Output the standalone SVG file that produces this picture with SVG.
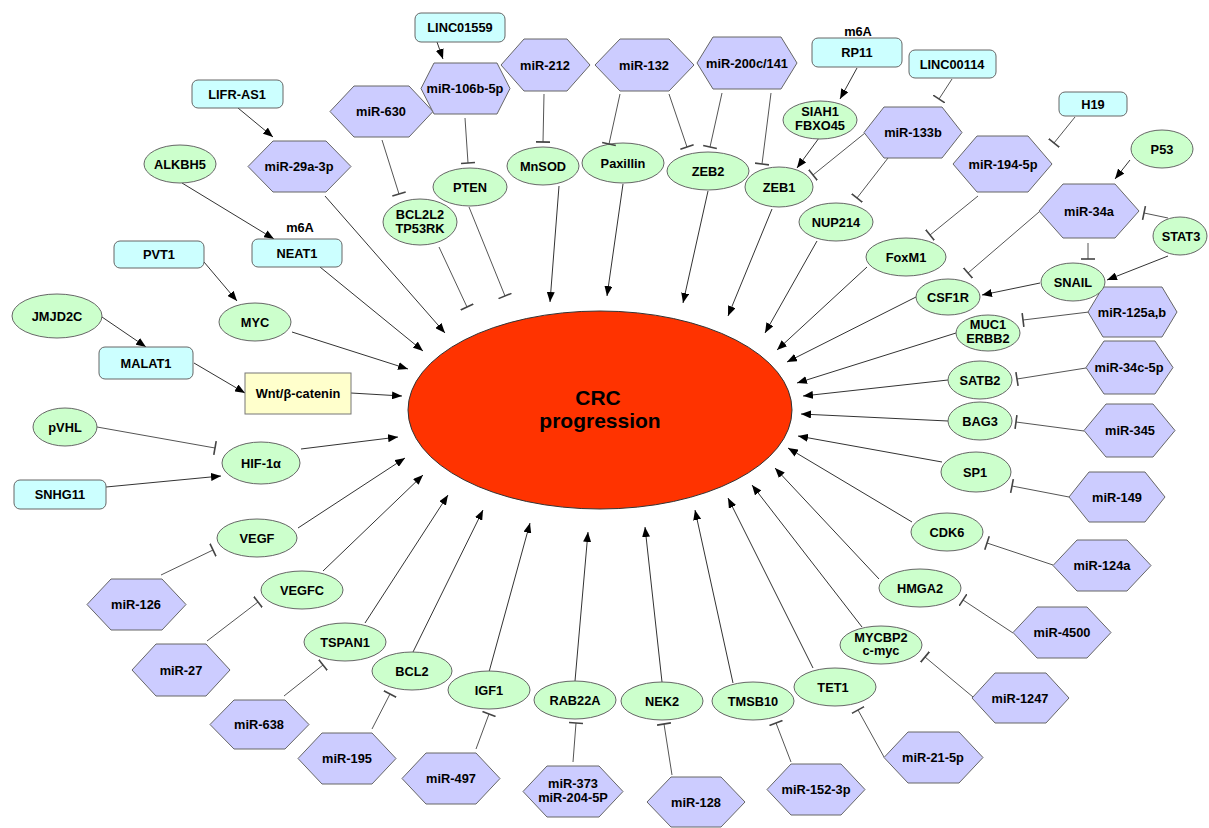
<svg xmlns="http://www.w3.org/2000/svg" width="1209" height="828" viewBox="0 0 1209 828">
<style>
text{font-family:"Liberation Sans",Arial,sans-serif;font-weight:bold;font-size:12.8px;text-anchor:middle;fill:#000}
.big{font-size:21px}
.hx{fill:#CCCCFF;stroke:#666;stroke-width:1}
.el{fill:#CCFFCC;stroke:#666;stroke-width:1}
.rr{fill:#CCFFFF;stroke:#666;stroke-width:1}
.wn{fill:#FFFFCC;stroke:#777;stroke-width:1}
.crc{fill:#FF3300;stroke:#333;stroke-width:1}
.a{fill:none;stroke:#333;stroke-width:1;marker-end:url(#arr)}
.i{fill:none;stroke:#555;stroke-width:1;marker-end:url(#tee)}
</style>
<defs>
<marker id="arr" markerWidth="10" markerHeight="8" refX="10" refY="4" orient="auto" markerUnits="userSpaceOnUse"><path d="M0,0 L10,4 L0,8 z" fill="#000"/></marker>
<marker id="tee" markerWidth="3" markerHeight="14" refX="1.5" refY="7" orient="auto" markerUnits="userSpaceOnUse"><line x1="1.5" y1="0" x2="1.5" y2="14" stroke="#444" stroke-width="1.6"/></marker>
</defs>
<rect width="1209" height="828" fill="#fff"/>

<g id="connectors">
<path class="a" d="M238,108 L273,137"/>
<path class="a" d="M182,183 L274,239"/>
<path class="a" d="M325,196 L445,333"/>
<path class="a" d="M320,267 L423,351"/>
<path class="a" d="M204,262 L237,301"/>
<path class="a" d="M292,332 L408,369"/>
<path class="a" d="M102,317 L146,347"/>
<path class="a" d="M194,363 L245,393"/>
<path class="a" d="M351,393 L402,396"/>
<path class="a" d="M106,487 L221,476"/>
<path class="a" d="M301,449 L398,437"/>
<path class="a" d="M298,528 L405,458"/>
<path class="a" d="M323,571 L423,475"/>
<path class="a" d="M365,623 L448,495"/>
<path class="a" d="M413,652 L483,510"/>
<path class="a" d="M489,672 L530,523"/>
<path class="a" d="M575,681 L588,532"/>
<path class="a" d="M662,682 L645,527"/>
<path class="a" d="M733,683 L695,510"/>
<path class="a" d="M813,668 L728,498"/>
<path class="a" d="M862,627 L752,485"/>
<path class="a" d="M879,579 L775,468"/>
<path class="a" d="M912,522 L788,448"/>
<path class="a" d="M942,462 L798,436"/>
<path class="a" d="M948,421 L801,414"/>
<path class="a" d="M948,380 L803,396"/>
<path class="a" d="M956,333 L797,383"/>
<path class="a" d="M916,297 L787,362"/>
<path class="a" d="M867,267 L777,350"/>
<path class="a" d="M817,241 L765,333"/>
<path class="a" d="M772,209 L728,316"/>
<path class="a" d="M708,191 L683,303"/>
<path class="a" d="M623,184 L607,296"/>
<path class="a" d="M559,186 L550,302"/>
<path class="a" d="M437,42 L443,59"/>
<path class="a" d="M857,68 L840,99"/>
<path class="a" d="M819,138 L797,168"/>
<path class="a" d="M1130,160 L1115,179"/>
<path class="a" d="M1168,256 L1107,280"/>
<path class="a" d="M1040,283 L982,295"/>

<path class="i" d="M97,427 L215,448"/>
<path class="i" d="M161,575 L213,550"/>
<path class="i" d="M207,641 L258,602"/>
<path class="i" d="M284,696 L323,665"/>
<path class="i" d="M372,729 L390,694"/>
<path class="i" d="M476,749 L489,714"/>
<path class="i" d="M573,762 L576,723"/>
<path class="i" d="M672,775 L664,724"/>
<path class="i" d="M791,762 L776,723"/>
<path class="i" d="M884,757 L858,710"/>
<path class="i" d="M973,697 L925,657"/>
<path class="i" d="M1013,633 L963,600"/>
<path class="i" d="M1053,565 L987,543"/>
<path class="i" d="M1069,497 L1012,486"/>
<path class="i" d="M1084,431 L1016,422"/>
<path class="i" d="M1086,368 L1017,379"/>
<path class="i" d="M1089,312 L1023,320"/>
<path class="i" d="M1039,212 L968,273"/>
<path class="i" d="M1088,243 L1088,259"/>
<path class="i" d="M1168,218 L1144,213"/>
<path class="i" d="M978,196 L930,235"/>
<path class="i" d="M1075,117 L1054,143"/>
<path class="i" d="M952,79 L939,99"/>
<path class="i" d="M888,158 L857,198"/>
<path class="i" d="M865,133 L813,175"/>
<path class="i" d="M771,93 L762,164"/>
<path class="i" d="M722,93 L710,147"/>
<path class="i" d="M669,94 L687,147"/>
<path class="i" d="M544,94 L543,142"/>
<path class="i" d="M465,118 L468,163"/>
<path class="i" d="M382,140 L399,194"/>
<path class="i" d="M469,207 L505,296"/>
<path class="i" d="M439,247 L467,307"/>
</g>

<g id="crc"><ellipse class="crc" cx="600" cy="410" rx="192" ry="99"/><text class="big" x="598" y="405">CRC</text><text class="big" x="600" y="428">progression</text></g>

<g id="wnt"><rect class="wn" x="245" y="373" width="106" height="41"/><text x="298" y="398">Wnt/β-catenin</text></g>

<g id="LINC01559"><rect class="rr" x="415" y="13" width="90" height="29" rx="6"/><text x="460" y="32">LINC01559</text></g>
<g id="LIFR-AS1"><rect class="rr" x="192" y="80" width="91" height="28" rx="6"/><text x="237" y="99">LIFR-AS1</text></g>
<g id="NEAT1"><text x="300" y="232">m6A</text><rect class="rr" x="252" y="239" width="90" height="28" rx="6"/><text x="297" y="258">NEAT1</text></g>
<g id="PVT1"><rect class="rr" x="114" y="241" width="90" height="27" rx="6"/><text x="159" y="259">PVT1</text></g>
<g id="MALAT1"><rect class="rr" x="99" y="347" width="94" height="32" rx="6"/><text x="146" y="368">MALAT1</text></g>
<g id="SNHG11"><rect class="rr" x="14" y="480" width="92" height="29" rx="6"/><text x="60" y="499">SNHG11</text></g>
<g id="RP11"><text x="858" y="36">m6A</text><rect class="rr" x="812" y="38" width="90" height="29" rx="6"/><text x="857" y="57">RP11</text></g>
<g id="LINC00114"><rect class="rr" x="909" y="50" width="87" height="28" rx="6"/><text x="952" y="69">LINC00114</text></g>
<g id="H19"><rect class="rr" x="1059" y="92" width="68" height="24" rx="6"/><text x="1093" y="109">H19</text></g>

<g id="miR-630"><polygon class="hx" points="330,111.5 354,86 409,86 433,111.5 409,137 354,137"/><text x="381" y="116">miR-630</text></g>
<g id="miR-29a-3p"><polygon class="hx" points="248,166.5 273,141 326,141 351,166.5 326,192 273,192"/><text x="299" y="171">miR-29a-3p</text></g>
<g id="miR-106b-5p"><polygon class="hx" points="421,88.5 434,63 497,63 510,88.5 497,114 434,114"/><text x="465" y="93">miR-106b-5p</text></g>
<g id="miR-212"><polygon class="hx" points="501,65 524,39 567,39 590,65 567,91 524,91"/><text x="545" y="69.5">miR-212</text></g>
<g id="miR-132"><polygon class="hx" points="595,65 620,39 669,39 694,65 669,91 620,91"/><text x="644" y="69.5">miR-132</text></g>
<g id="miR-200c-141"><polygon class="hx" points="697,63 713,37 781,37 797,63 781,89 713,89"/><text x="747" y="67.5">miR-200c/141</text></g>
<g id="miR-133b"><polygon class="hx" points="864,132.5 884,107 942,107 962,132.5 942,158 884,158"/><text x="913" y="137">miR-133b</text></g>
<g id="miR-194-5p"><polygon class="hx" points="953,164 977,136 1028,136 1052,164 1028,192 977,192"/><text x="1003" y="168.5">miR-194-5p</text></g>
<g id="miR-34a"><polygon class="hx" points="1039,211 1063,184 1115,184 1139,211 1115,238 1063,238"/><text x="1089" y="215.5">miR-34a</text></g>
<g id="miR-125ab"><polygon class="hx" points="1088,312 1103,287 1162,287 1177,312 1162,337 1103,337"/><text x="1132" y="316.5">miR-125a,b</text></g>
<g id="miR-34c-5p"><polygon class="hx" points="1086,367.5 1104,341 1155,341 1173,367.5 1155,394 1104,394"/><text x="1129" y="372">miR-34c-5p</text></g>
<g id="miR-345"><polygon class="hx" points="1084,430.5 1106,404 1153,404 1175,430.5 1153,457 1106,457"/><text x="1130" y="435">miR-345</text></g>
<g id="miR-149"><polygon class="hx" points="1069,497 1089,472 1145,472 1165,497 1145,522 1089,522"/><text x="1117" y="501.5">miR-149</text></g>
<g id="miR-124a"><polygon class="hx" points="1053,565.5 1077,540 1127,540 1151,565.5 1127,591 1077,591"/><text x="1102" y="570">miR-124a</text></g>
<g id="miR-4500"><polygon class="hx" points="1013,632.5 1037,607 1087,607 1111,632.5 1087,658 1037,658"/><text x="1062" y="637">miR-4500</text></g>
<g id="miR-1247"><polygon class="hx" points="972,698 995,673 1046,673 1069,698 1046,723 995,723"/><text x="1020" y="702.5">miR-1247</text></g>
<g id="miR-21-5p"><polygon class="hx" points="884,757.5 908,732 959,732 983,757.5 959,783 908,783"/><text x="933" y="762">miR-21-5p</text></g>
<g id="miR-152-3p"><polygon class="hx" points="767,789.5 791,764 841,764 865,789.5 841,815 791,815"/><text x="816" y="794">miR-152-3p</text></g>
<g id="miR-128"><polygon class="hx" points="647,802 671,777 721,777 745,802 721,827 671,827"/><text x="696" y="806.5">miR-128</text></g>
<g id="miR-373"><polygon class="hx" points="523,791.5 547,766 599,766 623,791.5 599,817 547,817"/><text x="573" y="788">miR-373</text><text x="573" y="802">miR-204-5P</text></g>
<g id="miR-497"><polygon class="hx" points="402,778.5 426,753 476,753 500,778.5 476,804 426,804"/><text x="451" y="783">miR-497</text></g>
<g id="miR-195"><polygon class="hx" points="298,758.5 322,733 372,733 396,758.5 372,784 322,784"/><text x="347" y="763">miR-195</text></g>
<g id="miR-638"><polygon class="hx" points="210,724.5 234,700 285,700 309,724.5 285,749 234,749"/><text x="259" y="729">miR-638</text></g>
<g id="miR-27"><polygon class="hx" points="132,670 156,644 206,644 230,670 206,696 156,696"/><text x="181" y="674.5">miR-27</text></g>
<g id="miR-126"><polygon class="hx" points="87,604.5 111,579 162,579 186,604.5 162,630 111,630"/><text x="136" y="609">miR-126</text></g>

<g id="ALKBH5"><ellipse class="el" cx="180" cy="164" rx="36" ry="19"/><text x="180" y="168.5">ALKBH5</text></g>
<g id="JMJD2C"><ellipse class="el" cx="57" cy="316" rx="45" ry="22"/><text x="57" y="320.5">JMJD2C</text></g>
<g id="MYC"><ellipse class="el" cx="255" cy="322" rx="36" ry="19"/><text x="255" y="326.5">MYC</text></g>
<g id="pVHL"><ellipse class="el" cx="65" cy="427" rx="32" ry="19"/><text x="65" y="431.5">pVHL</text></g>
<g id="HIF-1a"><ellipse class="el" cx="261" cy="463" rx="39" ry="21"/><text x="261" y="467.5">HIF-1α</text></g>
<g id="VEGF"><ellipse class="el" cx="257" cy="538" rx="40" ry="19"/><text x="257" y="542.5">VEGF</text></g>
<g id="VEGFC"><ellipse class="el" cx="302" cy="590" rx="41" ry="19"/><text x="302" y="594.5">VEGFC</text></g>
<g id="TSPAN1"><ellipse class="el" cx="345" cy="642" rx="41" ry="19"/><text x="345" y="646.5">TSPAN1</text></g>
<g id="BCL2"><ellipse class="el" cx="412" cy="671" rx="40" ry="19"/><text x="412" y="675.5">BCL2</text></g>
<g id="IGF1"><ellipse class="el" cx="489" cy="690" rx="41" ry="19"/><text x="489" y="694.5">IGF1</text></g>
<g id="RAB22A"><ellipse class="el" cx="575" cy="700" rx="41" ry="19"/><text x="575" y="704.5">RAB22A</text></g>
<g id="NEK2"><ellipse class="el" cx="662" cy="701" rx="41" ry="19"/><text x="662" y="705.5">NEK2</text></g>
<g id="TMSB10"><ellipse class="el" cx="753" cy="701" rx="41" ry="19"/><text x="753" y="705.5">TMSB10</text></g>
<g id="TET1"><ellipse class="el" cx="835" cy="687" rx="41" ry="19"/><text x="833" y="691.5">TET1</text></g>
<g id="MYCBP2"><ellipse class="el" cx="881" cy="645" rx="41" ry="19"/><text x="881" y="642">MYCBP2</text><text x="881" y="655">c-myc</text></g>
<g id="HMGA2"><ellipse class="el" cx="920" cy="588" rx="41" ry="19"/><text x="920" y="592.5">HMGA2</text></g>
<g id="CDK6"><ellipse class="el" cx="947" cy="532" rx="36" ry="19"/><text x="947" y="536.5">CDK6</text></g>
<g id="SP1"><ellipse class="el" cx="976" cy="472" rx="35" ry="20"/><text x="975" y="476.5">SP1</text></g>
<g id="BAG3"><ellipse class="el" cx="980" cy="421" rx="32" ry="19"/><text x="980" y="425.5">BAG3</text></g>
<g id="SATB2"><ellipse class="el" cx="980" cy="380" rx="32" ry="19"/><text x="980" y="384.5">SATB2</text></g>
<g id="MUC1"><ellipse class="el" cx="988" cy="333" rx="32" ry="18"/><text x="988" y="329">MUC1</text><text x="988" y="343">ERBB2</text></g>
<g id="CSF1R"><ellipse class="el" cx="948" cy="297" rx="32" ry="18"/><text x="948" y="301.5">CSF1R</text></g>
<g id="SNAIL"><ellipse class="el" cx="1073" cy="282" rx="32" ry="19"/><text x="1073" y="286.5">SNAIL</text></g>
<g id="STAT3"><ellipse class="el" cx="1180" cy="236" rx="27" ry="19"/><text x="1181" y="240.5">STAT3</text></g>
<g id="P53"><ellipse class="el" cx="1162" cy="149" rx="31" ry="19"/><text x="1162" y="153.5">P53</text></g>
<g id="FoxM1"><ellipse class="el" cx="906" cy="257" rx="40" ry="19"/><text x="906" y="261.5">FoxM1</text></g>
<g id="NUP214"><ellipse class="el" cx="836" cy="222" rx="37" ry="19"/><text x="836" y="226.5">NUP214</text></g>
<g id="ZEB1"><ellipse class="el" cx="779" cy="187" rx="34" ry="20"/><text x="779" y="191.5">ZEB1</text></g>
<g id="SIAH1"><ellipse class="el" cx="820" cy="120" rx="37" ry="19"/><text x="820" y="116">SIAH1</text><text x="820" y="130">FBXO45</text></g>
<g id="ZEB2"><ellipse class="el" cx="708" cy="171" rx="41" ry="19"/><text x="708" y="175.5">ZEB2</text></g>
<g id="Paxillin"><ellipse class="el" cx="623" cy="163" rx="41" ry="20"/><text x="623" y="167.5">Paxillin</text></g>
<g id="MnSOD"><ellipse class="el" cx="543" cy="166" rx="36" ry="19"/><text x="543" y="170.5">MnSOD</text></g>
<g id="PTEN"><ellipse class="el" cx="470" cy="187" rx="37" ry="19"/><text x="470" y="191.5">PTEN</text></g>
<g id="BCL2L2"><ellipse class="el" cx="420" cy="222" rx="37" ry="23"/><text x="420" y="219">BCL2L2</text><text x="420" y="233">TP53RK</text></g>
<g id="connectors-over"><path class="i" d="M620,94 L609,144"/></g>
</svg>
